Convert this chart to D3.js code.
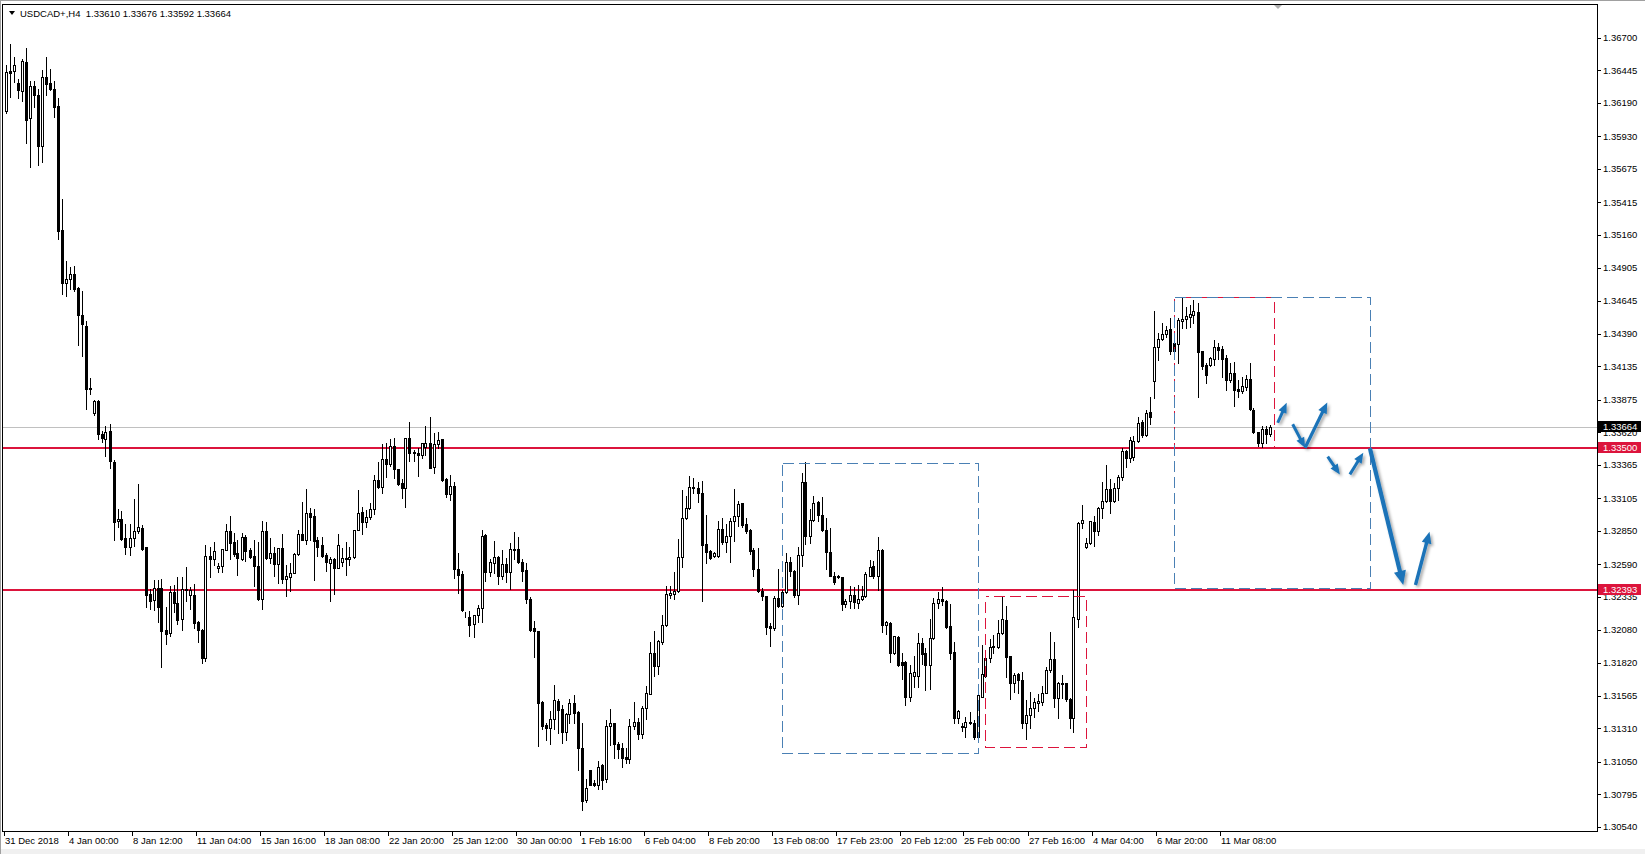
<!DOCTYPE html>
<html>
<head>
<meta charset="utf-8">
<script src="https://cdn.jsdelivr.net/npm/d3@7"></script>
<style>
    html, body { margin: 0; padding: 0; background: #fff; }
    svg { display: block; font-family: "Liberation Sans", Arial, sans-serif; font-size: 9.5px; }
</style>
</head>
<body>
<svg id="chart" width="1645" height="854"></svg>
<script>
// USDCAD H4 candles, 31 Dec 2018 .. 13 Mar 2019
const open = [
    1.36129,1.36438,1.36438,1.36346,1.36282,1.36512,1.36072,1.36320,1.36250,1.35858,
    1.36391,1.36346,1.36304,1.36167,1.35198,1.34783,1.34815,1.34859,1.34745,1.34534,
    1.34454,1.33960,1.33768,1.33864,1.33609,1.33571,1.33631,1.33386,1.32926,1.32945,
    1.32795,1.32722,1.32795,1.32850,1.32875,1.32722,1.32355,1.32311,1.32403,1.32403,
    1.32078,1.32052,1.32371,1.32285,1.32164,1.32390,1.32349,1.32349,1.32142,1.32078,
    1.31855,1.32656,1.32630,1.32560,1.32580,1.32700,1.32848,1.32765,1.32682,1.32632,
    1.32804,1.32702,1.32656,1.32578,1.32318,1.32848,1.32643,1.32677,1.32596,1.32715,
    1.32479,1.32494,1.32521,1.32671,1.32825,1.32783,1.32988,1.32968,1.32780,1.32741,
    1.32663,1.32604,1.32630,1.32565,1.32611,1.32637,1.32630,1.32645,1.32856,1.32996,
    1.32923,1.32960,1.33020,1.33248,1.33196,1.33412,1.33370,1.33513,1.33334,1.33222,
    1.33188,1.33573,1.33467,1.33461,1.33441,1.33508,1.33534,1.33352,1.33529,1.33565,
    1.33253,1.33137,1.33205,1.32550,1.32511,1.32180,1.32178,1.32126,1.32193,1.32250,
    1.32815,1.32531,1.32602,1.32649,1.32498,1.32596,1.32529,1.32711,1.32706,1.32610,
    1.32542,1.32321,1.32089,1.32068,1.31514,1.31332,1.31314,1.31379,1.31522,1.31457,
    1.31280,1.31418,1.31504,1.31436,1.31158,1.30749,1.30981,1.30884,1.30871,1.31020,
    1.30915,1.31327,1.31348,1.31189,1.31158,1.31085,1.31067,1.31327,1.31361,1.31267,
    1.31470,1.31579,1.31899,1.31795,1.31982,1.32115,1.32349,1.32359,1.32380,1.32648,
    1.32952,1.33031,1.33195,1.33187,1.33143,1.32750,1.32692,1.32653,1.32653,1.32867,
    1.32763,1.32809,1.32927,1.32966,1.33065,1.32901,1.32854,1.32698,1.32557,1.32385,
    1.32346,1.32107,1.32089,1.32328,1.32263,1.32375,1.32609,1.32541,1.32349,1.32661,
    1.33234,1.32809,1.32932,1.33075,1.32971,1.32854,1.32687,1.32502,1.32502,1.32492,
    1.32281,1.32307,1.32349,1.32289,1.32320,1.32341,1.32502,1.32575,1.32497,1.32705,
    1.32120,1.32133,1.31894,1.32024,1.31829,1.31829,1.31555,1.31717,1.31717,1.31972,
    1.31894,1.31800,1.32012,1.32285,1.32316,1.32306,1.32108,1.31908,1.31393,1.31328,
    1.31322,1.31354,1.31354,1.31239,1.31556,1.31718,1.31856,1.31942,1.31942,1.32051,
    1.32155,1.31874,1.31666,1.31731,1.31687,1.31354,1.31413,1.31465,1.31509,1.31517,
    1.31588,1.31765,1.31848,1.31543,1.31656,1.31661,1.31536,1.31387,1.32160,1.32910,
    1.32722,1.32753,1.32917,1.32852,1.33027,1.33084,1.33175,1.33087,1.33183,1.33270,
    1.33474,1.33417,1.33430,1.33555,1.33703,1.33599,1.33776,1.34021,1.34283,1.34346,
    1.34387,1.34424,1.34315,1.34309,1.34492,1.34502,1.34523,1.34533,1.34557,1.34255,
    1.34146,1.34146,1.34192,1.34289,1.34268,1.34198,1.34028,1.34080,1.33956,1.33945,
    1.33976,1.34034,1.33794,1.33625,1.33539,1.33646,1.33610
];
const high = [
    1.36486,1.36655,1.36550,1.36378,1.36537,1.36623,1.36359,1.36359,1.36304,1.36448,
    1.36553,1.36454,1.36359,1.36231,1.35443,1.34955,1.34910,1.34917,1.34751,1.34725,
    1.34492,1.34046,1.33874,1.33870,1.33631,1.33666,1.33689,1.33402,1.33025,1.33003,
    1.32907,1.32901,1.33099,1.33220,1.32898,1.32725,1.32397,1.32467,1.32467,1.32477,
    1.32253,1.32422,1.32429,1.32493,1.32493,1.32572,1.32413,1.32435,1.32151,1.32084,
    1.32741,1.32728,1.32767,1.32598,1.32708,1.32903,1.32968,1.32838,1.32780,1.32832,
    1.32819,1.32715,1.32780,1.32762,1.32929,1.32923,1.32793,1.32728,1.32715,1.32825,
    1.32585,1.32604,1.32682,1.32858,1.33077,1.33178,1.33027,1.33020,1.32806,1.32806,
    1.32677,1.32650,1.32637,1.32825,1.32715,1.32767,1.32728,1.32858,1.33170,1.33035,
    1.33014,1.33066,1.33287,1.33391,1.33529,1.33534,1.33565,1.33573,1.33334,1.33253,
    1.33573,1.33698,1.33482,1.33495,1.33534,1.33669,1.33737,1.33617,1.33625,1.33565,
    1.33261,1.33287,1.33230,1.32680,1.32537,1.32217,1.32224,1.32193,1.32269,1.32857,
    1.32823,1.32628,1.32771,1.32654,1.32701,1.32641,1.32753,1.32841,1.32805,1.32628,
    1.32602,1.32336,1.32146,1.32068,1.31522,1.31348,1.31444,1.31644,1.31540,1.31488,
    1.31431,1.31540,1.31566,1.31444,1.31348,1.30915,1.30988,1.30910,1.31054,1.31028,
    1.31374,1.31462,1.31353,1.31202,1.31197,1.31158,1.31379,1.31517,1.31392,1.31483,
    1.31639,1.31985,1.32073,1.31998,1.32198,1.32424,1.32419,1.32528,1.32791,1.33169,
    1.33127,1.33283,1.33265,1.33231,1.33239,1.32971,1.32705,1.32685,1.32927,1.32952,
    1.32901,1.32952,1.33179,1.33083,1.33070,1.32952,1.32862,1.32718,1.32718,1.32406,
    1.32346,1.32133,1.32346,1.32554,1.32393,1.32679,1.32646,1.32544,1.32726,1.33304,
    1.33387,1.33018,1.33122,1.33083,1.33114,1.32952,1.32875,1.32528,1.32510,1.32492,
    1.32320,1.32419,1.32411,1.32432,1.32419,1.32528,1.32627,1.32614,1.32804,1.32711,
    1.32146,1.32138,1.32034,1.32029,1.31899,1.31834,1.31800,1.31873,1.32055,1.32016,
    1.31938,1.32160,1.32324,1.32376,1.32410,1.32311,1.32280,1.31986,1.31452,1.31354,
    1.31401,1.31434,1.31374,1.31569,1.31960,1.31882,1.32004,1.32038,1.32155,1.32337,
    1.32264,1.31874,1.31739,1.31739,1.31752,1.31530,1.31596,1.31543,1.31575,1.31640,
    1.31791,1.32064,1.31986,1.31674,1.31726,1.31666,1.31543,1.32389,1.32923,1.33053,
    1.32798,1.32930,1.32967,1.33040,1.33235,1.33365,1.33253,1.33222,1.33287,1.33495,
    1.33482,1.33586,1.33591,1.33742,1.33716,1.33794,1.33898,1.34567,1.34393,1.34471,
    1.34450,1.34510,1.34380,1.34515,1.34674,1.34601,1.34614,1.34653,1.34632,1.34255,
    1.34159,1.34205,1.34341,1.34315,1.34294,1.34224,1.34159,1.34171,1.34028,1.34054,
    1.34067,1.34159,1.33807,1.33625,1.33669,1.33669,1.33676
];
const low = [
    1.36113,1.36241,1.36352,1.36231,1.36209,1.35880,1.35692,1.36161,1.35708,1.35730,
    1.36257,1.36289,1.36081,1.35131,1.34700,1.34687,1.34741,1.34725,1.34304,1.34215,
    1.33800,1.33921,1.33752,1.33567,1.33545,1.33434,1.33338,1.32779,1.32882,1.32779,
    1.32668,1.32662,1.32732,1.32837,1.32700,1.32259,1.32244,1.32237,1.32142,1.31791,
    1.31966,1.32030,1.32221,1.32126,1.32078,1.32301,1.32244,1.32094,1.31982,1.31823,
    1.31838,1.32487,1.32585,1.32526,1.32526,1.32700,1.32630,1.32656,1.32508,1.32624,
    1.32619,1.32643,1.32422,1.32313,1.32242,1.32630,1.32598,1.32502,1.32443,1.32443,
    1.32339,1.32378,1.32521,1.32663,1.32780,1.32749,1.32780,1.32468,1.32656,1.32650,
    1.32539,1.32300,1.32357,1.32560,1.32573,1.32508,1.32585,1.32637,1.32856,1.32830,
    1.32879,1.32942,1.32983,1.33188,1.33144,1.33269,1.33360,1.33266,1.33209,1.33111,
    1.33040,1.33399,1.33399,1.33282,1.33422,1.33443,1.33344,1.33305,1.33495,1.33243,
    1.33118,1.33092,1.32485,1.32368,1.32224,1.32178,1.32034,1.32021,1.32139,1.32139,
    1.32459,1.32498,1.32524,1.32433,1.32472,1.32451,1.32399,1.32628,1.32602,1.32459,
    1.32290,1.32068,1.31865,1.31171,1.31301,1.31217,1.31189,1.31301,1.31275,1.31197,
    1.31217,1.31353,1.31353,1.30983,1.30671,1.30733,1.30864,1.30858,1.30832,1.30832,
    1.30889,1.31176,1.31080,1.31080,1.31007,1.31041,1.31035,1.31301,1.31228,1.31236,
    1.31384,1.31574,1.31717,1.31735,1.31964,1.32107,1.32328,1.32320,1.32372,1.32570,
    1.32945,1.33025,1.33143,1.33075,1.32307,1.32601,1.32633,1.32648,1.32648,1.32752,
    1.32685,1.32607,1.32770,1.32888,1.32882,1.32836,1.32674,1.32502,1.32372,1.32310,
    1.32042,1.31951,1.32081,1.32258,1.32258,1.32367,1.32497,1.32333,1.32281,1.32575,
    1.32750,1.32757,1.32927,1.32927,1.32849,1.32554,1.32497,1.32440,1.32484,1.32237,
    1.32258,1.32250,1.32250,1.32250,1.32310,1.32336,1.32497,1.32484,1.32388,1.32060,
    1.32042,1.31826,1.31886,1.31795,1.31696,1.31488,1.31521,1.31633,1.31633,1.31808,
    1.31607,1.31614,1.32004,1.32246,1.32272,1.32090,1.31848,1.31354,1.31354,1.31291,
    1.31239,1.31341,1.31223,1.31218,1.31551,1.31713,1.31830,1.31895,1.31934,1.32046,
    1.31713,1.31536,1.31596,1.31583,1.31309,1.31223,1.31309,1.31395,1.31447,1.31491,
    1.31583,1.31752,1.31478,1.31387,1.31543,1.31525,1.31309,1.31283,1.32103,1.32871,
    1.32714,1.32748,1.32735,1.32819,1.32948,1.33079,1.32988,1.33079,1.33092,1.33250,
    1.33352,1.33391,1.33404,1.33547,1.33586,1.33591,1.33685,1.33891,1.34185,1.34341,
    1.34367,1.34231,1.34237,1.34164,1.34432,1.34432,1.34445,1.34476,1.33893,1.34112,
    1.34002,1.34138,1.34146,1.34190,1.34054,1.33950,1.34015,1.33825,1.33898,1.33930,
    1.33950,1.33794,1.33612,1.33508,1.33508,1.33534,1.33592
];
const close = [
    1.36432,1.36426,1.36489,1.36289,1.36518,1.36059,1.36320,1.36257,1.35858,1.36394,
    1.36343,1.36304,1.36161,1.35194,1.34783,1.34815,1.34859,1.34741,1.34534,1.34464,
    1.33960,1.33966,1.33864,1.33609,1.33577,1.33625,1.33395,1.32923,1.32945,1.32786,
    1.32722,1.32799,1.32850,1.32882,1.32709,1.32349,1.32307,1.32403,1.32253,1.32071,
    1.32046,1.32374,1.32285,1.32158,1.32397,1.32397,1.32387,1.32135,1.32078,1.31855,
    1.32652,1.32630,1.32695,1.32578,1.32708,1.32848,1.32760,1.32671,1.32637,1.32804,
    1.32697,1.32650,1.32573,1.32320,1.32848,1.32637,1.32677,1.32596,1.32715,1.32479,
    1.32500,1.32521,1.32671,1.32825,1.32783,1.32988,1.32962,1.32775,1.32728,1.32658,
    1.32611,1.32630,1.32565,1.32739,1.32637,1.32630,1.32645,1.32856,1.32988,1.32918,
    1.32957,1.33020,1.33248,1.33196,1.33412,1.33370,1.33513,1.33331,1.33217,1.33188,
    1.33573,1.33461,1.33456,1.33441,1.33534,1.33534,1.33344,1.33529,1.33560,1.33248,
    1.33137,1.33204,1.32550,1.32505,1.32237,1.32180,1.32120,1.32193,1.32250,1.32810,
    1.32531,1.32607,1.32649,1.32498,1.32596,1.32529,1.32711,1.32701,1.32607,1.32537,
    1.32316,1.32081,1.32068,1.31509,1.31327,1.31314,1.31379,1.31527,1.31452,1.31280,
    1.31418,1.31504,1.31431,1.31158,1.30741,1.30845,1.30871,1.30871,1.31009,1.30905,
    1.31327,1.31348,1.31184,1.31150,1.31080,1.31067,1.31327,1.31358,1.31267,1.31470,
    1.31582,1.31899,1.31795,1.31990,1.32120,1.32362,1.32367,1.32380,1.32648,1.32952,
    1.33031,1.33195,1.33187,1.33143,1.32739,1.32685,1.32640,1.32679,1.32867,1.32763,
    1.32809,1.32927,1.32966,1.33057,1.32893,1.32849,1.32692,1.32554,1.32385,1.32341,
    1.32099,1.32094,1.32328,1.32263,1.32375,1.32609,1.32536,1.32349,1.32661,1.33234,
    1.32809,1.32932,1.33070,1.32971,1.32854,1.32685,1.32502,1.32450,1.32489,1.32281,
    1.32307,1.32349,1.32294,1.32323,1.32346,1.32515,1.32567,1.32497,1.32705,1.32120,
    1.32138,1.31894,1.32029,1.31800,1.31800,1.31555,1.31743,1.31748,1.31972,1.31886,
    1.31800,1.32012,1.32285,1.32316,1.32306,1.32103,1.31900,1.31393,1.31445,1.31317,
    1.31356,1.31361,1.31239,1.31569,1.31731,1.31856,1.31942,1.31952,1.32051,1.32160,
    1.31869,1.31661,1.31726,1.31687,1.31354,1.31413,1.31465,1.31512,1.31522,1.31588,
    1.31765,1.31848,1.31543,1.31661,1.31666,1.31536,1.31387,1.32181,1.32910,1.32936,
    1.32753,1.32928,1.32852,1.33027,1.33084,1.33175,1.33087,1.33183,1.33269,1.33474,
    1.33417,1.33560,1.33555,1.33695,1.33599,1.33773,1.33737,1.34283,1.34346,1.34387,
    1.34419,1.34257,1.34257,1.34497,1.34502,1.34528,1.34541,1.34567,1.34250,1.34140,
    1.34067,1.34198,1.34283,1.34263,1.34192,1.34028,1.34080,1.33950,1.33945,1.33982,
    1.34034,1.33799,1.33625,1.33534,1.33643,1.33607,1.33664
];

// axis labels
const timeLabels = ["31 Dec 2018", "4 Jan 00:00", "8 Jan 12:00", "11 Jan 04:00", "15 Jan 16:00",
    "18 Jan 08:00", "22 Jan 20:00", "25 Jan 12:00", "30 Jan 00:00", "1 Feb 16:00", "6 Feb 04:00",
    "8 Feb 20:00", "13 Feb 08:00", "17 Feb 23:00", "20 Feb 12:00", "25 Feb 00:00", "27 Feb 16:00",
    "4 Mar 04:00", "6 Mar 20:00", "11 Mar 08:00"];
const barsPerLabel = 16;
const priceTicks = [1.36700, 1.36445, 1.36190, 1.35930, 1.35675, 1.35415, 1.35160, 1.34905,
    1.34645, 1.34390, 1.34135, 1.33875, 1.33620, 1.33365, 1.33105, 1.32850, 1.32590, 1.32335,
    1.32080, 1.31820, 1.31565, 1.31310, 1.31050, 1.30795, 1.30540];

// header and levels
const symbolTitle = "USDCAD+,H4";
const lastQuote = ["1.33610", "1.33676", "1.33592", "1.33664"];
const bidPrice = 1.33664;
const levelPrices = [1.33500, 1.32393];

// drawn objects: [first bar, last bar, top price, bottom price]
const blueBoxes = [[194, 243, 1.33378, 1.31115], [292, 341, 1.34674, 1.32402]];
const redBoxes = [[245, 270, 1.32342, 1.31163], [292, 317, 1.34674, 1.33508]];

// arrows: [bar, price] from -> to, and shaft width
const arrowFrom = [[318.05, 1.33695], [321.8, 1.33683], [324.9, 1.33500], [330.55, 1.33430],
    [336.1, 1.33292], [341.1, 1.33495], [352.5, 1.32428]];
const arrowTo = [[320.3, 1.33851], [324.9, 1.33500], [330.45, 1.33854], [333.6, 1.33292],
    [339.45, 1.33461], [349.45, 1.32428], [356.0, 1.32844]];
const arrowWidth = [3, 3, 3.2, 3, 3, 4.2, 3.4];

const plotLeft = 3, plotTop = 4, plotRight = 1597, plotBottom = 831;
const red = "#dc143c", blue = "#4a80b4", arrowBlue = "#1a73b8";

let svg = d3.select("#chart");
let x = d3.scaleLinear().domain([0, 398]).range([5.5, 1597.5]);
let y = d3.scaleLinear().domain([1.30508, 1.36964]).range([plotBottom, plotTop]);

function render() {
    drawWindow();
    let plot = svg.append("g").attr("clip-path", "url(#plotClip)");
    drawLevels(plot);
    drawCandles(plot);
    drawBoxes(plot);
    drawArrows(plot);
    drawPriceAxis();
    drawTimeAxis();
    drawHeader();
}

// Background, window edges and frame
function drawWindow() {
    svg.append("rect").attr("width", 1645).attr("height", 854).attr("fill", "#fff");
    svg.append("rect").attr("x", 0).attr("y", 849).attr("width", 1645).attr("height", 5).attr("fill", "#f0f0f0");
    svg.append("line").attr("x1", 0).attr("x2", 1645).attr("y1", 0.5).attr("y2", 0.5).attr("stroke", "#a0a0a0");
    svg.append("line").attr("x1", 0.5).attr("x2", 0.5).attr("y1", 0).attr("y2", 854).attr("stroke", "#a0a0a0");

    svg.append("defs").append("clipPath").attr("id", "plotClip")
       .append("rect")
       .attr("x", plotLeft).attr("y", plotTop)
       .attr("width", plotRight - plotLeft).attr("height", plotBottom - plotTop);

    let shadow = svg.select("defs").append("filter").attr("id", "shadow")
                    .attr("x", "-50%").attr("y", "-50%").attr("width", "200%").attr("height", "200%");
    shadow.append("feDropShadow")
          .attr("dx", 2).attr("dy", 2).attr("stdDeviation", 1.6)
          .attr("flood-color", "#000").attr("flood-opacity", 0.35);

    svg.append("rect")
       .attr("x", plotLeft - 0.5).attr("y", plotTop + 0.5)
       .attr("width", plotRight - plotLeft + 1).attr("height", plotBottom - plotTop)
       .attr("fill", "none").attr("stroke", "#000")
       .attr("shape-rendering", "crispEdges");

    // chart shift marker
    let sx = Math.round(x(318));
    svg.append("path")
       .attr("d", `M${sx - 4},${plotTop + 1}L${sx + 4},${plotTop + 1}L${sx},${plotTop + 5}Z`)
       .attr("fill", "#b0b0b0");
}

// Bid line and the two horizontal levels
function drawLevels(plot) {
    plot.append("line")
        .attr("x1", plotLeft).attr("x2", plotRight)
        .attr("y1", Math.round(y(bidPrice)) + 0.5).attr("y2", Math.round(y(bidPrice)) + 0.5)
        .attr("stroke", "#c0c0c0").attr("shape-rendering", "crispEdges");

    plot.selectAll("line.level")
        .data(levelPrices)
        .enter()
        .append("line")
        .attr("class", "level")
        .attr("x1", plotLeft).attr("x2", plotRight)
        .attr("y1", (d) => Math.round(y(d)))
        .attr("y2", (d) => Math.round(y(d)))
        .attr("stroke", red).attr("stroke-width", 2)
        .attr("shape-rendering", "crispEdges");
}

// Candles: 1px wick, 3px body, white bulls and black bears
function drawCandles(plot) {
    let bars = d3.range(open.length);
    let g = plot.append("g").attr("shape-rendering", "crispEdges");

    g.selectAll("line.wick")
     .data(bars)
     .enter()
     .append("line")
     .attr("class", "wick")
     .attr("x1", (i) => Math.round(x(i)) + 0.5)
     .attr("x2", (i) => Math.round(x(i)) + 0.5)
     .attr("y1", (i) => Math.round(y(Math.max(high[i], open[i], close[i]))))
     .attr("y2", (i) => Math.round(y(Math.min(low[i], open[i], close[i]))) + 1)
     .attr("stroke", "#000");

    g.selectAll("rect.body")
     .data(bars)
     .enter()
     .append("rect")
     .attr("class", "body")
     .attr("x", (i) => Math.round(x(i)) - 0.5)
     .attr("y", (i) => Math.round(y(Math.max(open[i], close[i]))) + 0.5)
     .attr("width", 2)
     .attr("height", (i) => Math.round(y(Math.min(open[i], close[i]))) - Math.round(y(Math.max(open[i], close[i]))))
     .attr("fill", (i) => close[i] >= open[i] ? "#fff" : "#000")
     .attr("stroke", "#000");
}

// Dashed rectangles drawn on the chart (red under blue)
function drawBoxes(plot) {
    let g = plot.append("g").attr("fill", "none").attr("shape-rendering", "crispEdges");

    g.selectAll("rect.redBox")
     .data(redBoxes)
     .enter()
     .append("rect")
     .attr("class", "redBox")
     .attr("x", (d) => Math.round(x(d[0])) + 0.5)
     .attr("y", (d) => Math.round(y(d[2])) + 0.5)
     .attr("width", (d) => Math.round(x(d[1])) - Math.round(x(d[0])))
     .attr("height", (d) => Math.round(y(d[3])) - Math.round(y(d[2])))
     .attr("stroke", red)
     .attr("stroke-dasharray", "11,5")
     .attr("stroke-dashoffset", 8);

    g.selectAll("rect.blueBox")
     .data(blueBoxes)
     .enter()
     .append("rect")
     .attr("class", "blueBox")
     .attr("x", (d) => Math.round(x(d[0])) + 0.5)
     .attr("y", (d) => Math.round(y(d[2])) + 0.5)
     .attr("width", (d) => Math.round(x(d[1])) - Math.round(x(d[0])))
     .attr("height", (d) => Math.round(y(d[3])) - Math.round(y(d[2])))
     .attr("stroke", blue)
     .attr("stroke-dasharray", "11,5");
}

// Blue arrows with a soft shadow
function drawArrows(plot) {
    let g = plot.append("g").attr("filter", "url(#shadow)");

    arrowFrom.forEach((from, k) => {
        let sx = x(from[0]), sy = y(from[1]);
        let ex = x(arrowTo[k][0]), ey = y(arrowTo[k][1]);
        let w = arrowWidth[k];
        let len = Math.hypot(ex - sx, ey - sy);
        let ux = (ex - sx) / len, uy = (ey - sy) / len;
        let headLen = w * 3.4, headHalf = w * 1.45;
        let bx = ex - ux * headLen, by = ey - uy * headLen;

        g.append("line")
         .attr("x1", sx).attr("y1", sy)
         .attr("x2", bx + ux).attr("y2", by + uy)
         .attr("stroke", arrowBlue).attr("stroke-width", w);

        g.append("path")
         .attr("d", `M${ex},${ey}L${bx - uy * headHalf},${by + ux * headHalf}L${bx + uy * headHalf},${by - ux * headHalf}Z`)
         .attr("fill", arrowBlue);
    });
}

// Right price scale with the bid and level tags
function drawPriceAxis() {
    let g = svg.append("g");

    g.selectAll("line.ptick")
     .data(priceTicks)
     .enter()
     .append("line")
     .attr("class", "ptick")
     .attr("x1", plotRight + 1).attr("x2", plotRight + 4)
     .attr("y1", (d) => Math.round(y(d)) + 0.5)
     .attr("y2", (d) => Math.round(y(d)) + 0.5)
     .attr("stroke", "#000").attr("shape-rendering", "crispEdges");

    g.selectAll("text.plabel")
     .data(priceTicks)
     .enter()
     .append("text")
     .attr("class", "plabel")
     .attr("x", plotRight + 6)
     .attr("y", (d) => y(d))
     .attr("dy", "0.35em")
     .attr("fill", "#000")
     .text((d) => d.toFixed(5));

    let tags = levelPrices.map((p) => ({ price: p, color: red }))
                          .concat([{ price: bidPrice, color: "#000" }]);

    let tag = g.selectAll("g.tag")
               .data(tags)
               .enter()
               .append("g")
               .attr("class", "tag");

    tag.append("rect")
       .attr("x", plotRight + 1)
       .attr("y", (d) => Math.round(y(d.price)) - 6)
       .attr("width", 43).attr("height", 11)
       .attr("fill", (d) => d.color);

    tag.append("text")
       .attr("x", plotRight + 6)
       .attr("y", (d) => Math.round(y(d.price)) - 0.5)
       .attr("dy", "0.35em")
       .attr("fill", "#fff")
       .text((d) => d.price.toFixed(5));
}

// Bottom time scale, one label every 16 bars
function drawTimeAxis() {
    let g = svg.append("g");

    g.selectAll("line.ttick")
     .data(timeLabels)
     .enter()
     .append("line")
     .attr("class", "ttick")
     .attr("x1", (d, k) => Math.round(x(k * barsPerLabel)) - 1.5)
     .attr("x2", (d, k) => Math.round(x(k * barsPerLabel)) - 1.5)
     .attr("y1", plotBottom + 1).attr("y2", plotBottom + 5)
     .attr("stroke", "#000").attr("shape-rendering", "crispEdges");

    g.selectAll("text.tlabel")
     .data(timeLabels)
     .enter()
     .append("text")
     .attr("class", "tlabel")
     .attr("x", (d, k) => Math.round(x(k * barsPerLabel)) - 1)
     .attr("y", plotBottom + 13)
     .attr("fill", "#000")
     .text((d) => d);
}

// Symbol line in the top-left corner
function drawHeader() {
    svg.append("path")
       .attr("d", "M9,11L15,11L12,15Z")
       .attr("fill", "#000");

    svg.append("text")
       .attr("x", 20).attr("y", 16.5)
       .attr("fill", "#000")
       .attr("xml:space", "preserve")
       .text(symbolTitle + "  " + lastQuote.join(" "));
}

render();
</script>
</body>
</html>
